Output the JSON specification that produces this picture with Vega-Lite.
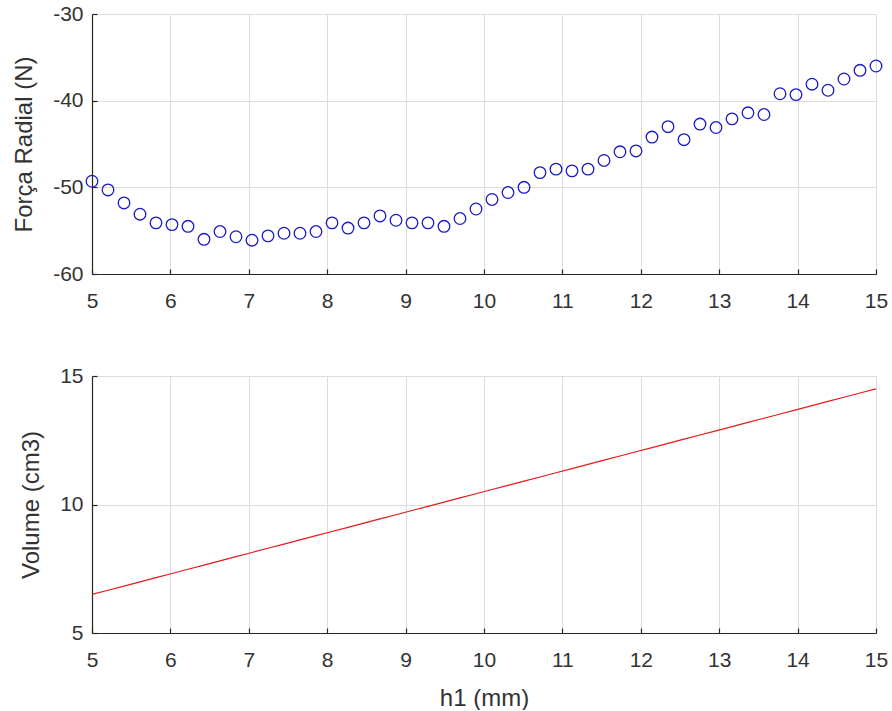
{
  "$schema": "https://vega.github.io/schema/vega-lite/v6.json",
  "background": "white",
  "autosize": {"type": "pad"},
  "padding": {"left": 12, "top": 3, "right": 14, "bottom": 0},
  "bounds": "flush",
  "spacing": 102,
  "data": {"values": [
    {"h1": 5.0000, "forca": -49.3, "volume": 6.500},
    {"h1": 5.2041, "forca": -50.3, "volume": 6.663},
    {"h1": 5.4082, "forca": -51.8, "volume": 6.827},
    {"h1": 5.6122, "forca": -53.1, "volume": 6.990},
    {"h1": 5.8163, "forca": -54.1, "volume": 7.153},
    {"h1": 6.0204, "forca": -54.3, "volume": 7.316},
    {"h1": 6.2245, "forca": -54.5, "volume": 7.480},
    {"h1": 6.4286, "forca": -56.0, "volume": 7.643},
    {"h1": 6.6327, "forca": -55.1, "volume": 7.806},
    {"h1": 6.8367, "forca": -55.7, "volume": 7.969},
    {"h1": 7.0408, "forca": -56.1, "volume": 8.133},
    {"h1": 7.2449, "forca": -55.6, "volume": 8.296},
    {"h1": 7.4490, "forca": -55.3, "volume": 8.459},
    {"h1": 7.6531, "forca": -55.3, "volume": 8.622},
    {"h1": 7.8571, "forca": -55.1, "volume": 8.786},
    {"h1": 8.0612, "forca": -54.1, "volume": 8.949},
    {"h1": 8.2653, "forca": -54.7, "volume": 9.112},
    {"h1": 8.4694, "forca": -54.1, "volume": 9.276},
    {"h1": 8.6735, "forca": -53.3, "volume": 9.439},
    {"h1": 8.8776, "forca": -53.8, "volume": 9.602},
    {"h1": 9.0816, "forca": -54.1, "volume": 9.765},
    {"h1": 9.2857, "forca": -54.1, "volume": 9.929},
    {"h1": 9.4898, "forca": -54.5, "volume": 10.092},
    {"h1": 9.6939, "forca": -53.6, "volume": 10.255},
    {"h1": 9.8980, "forca": -52.5, "volume": 10.418},
    {"h1": 10.1020, "forca": -51.4, "volume": 10.582},
    {"h1": 10.3061, "forca": -50.6, "volume": 10.745},
    {"h1": 10.5102, "forca": -50.0, "volume": 10.908},
    {"h1": 10.7143, "forca": -48.3, "volume": 11.071},
    {"h1": 10.9184, "forca": -47.9, "volume": 11.235},
    {"h1": 11.1224, "forca": -48.1, "volume": 11.398},
    {"h1": 11.3265, "forca": -47.9, "volume": 11.561},
    {"h1": 11.5306, "forca": -46.9, "volume": 11.724},
    {"h1": 11.7347, "forca": -45.9, "volume": 11.888},
    {"h1": 11.9388, "forca": -45.8, "volume": 12.051},
    {"h1": 12.1429, "forca": -44.2, "volume": 12.214},
    {"h1": 12.3469, "forca": -43.0, "volume": 12.378},
    {"h1": 12.5510, "forca": -44.5, "volume": 12.541},
    {"h1": 12.7551, "forca": -42.7, "volume": 12.704},
    {"h1": 12.9592, "forca": -43.1, "volume": 12.867},
    {"h1": 13.1633, "forca": -42.1, "volume": 13.031},
    {"h1": 13.3673, "forca": -41.4, "volume": 13.194},
    {"h1": 13.5714, "forca": -41.6, "volume": 13.357},
    {"h1": 13.7755, "forca": -39.2, "volume": 13.520},
    {"h1": 13.9796, "forca": -39.3, "volume": 13.684},
    {"h1": 14.1837, "forca": -38.1, "volume": 13.847},
    {"h1": 14.3878, "forca": -38.8, "volume": 14.010},
    {"h1": 14.5918, "forca": -37.5, "volume": 14.173},
    {"h1": 14.7959, "forca": -36.5, "volume": 14.337},
    {"h1": 15.0000, "forca": -36.0, "volume": 14.500}
  ]},
  "vconcat": [
    {
      "width": 784,
      "height": 260,
      "mark": {"type": "point", "shape": "circle", "filled": false, "color": "#1a1ad0", "size": 135, "strokeWidth": 1.3, "opacity": 1},
      "encoding": {
        "x": {"field": "h1", "type": "quantitative", "scale": {"domain": [5, 15], "nice": false, "zero": false},
              "axis": {"values": [5, 6, 7, 8, 9, 10, 11, 12, 13, 14, 15], "title": null}},
        "y": {"field": "forca", "type": "quantitative", "scale": {"domain": [-60, -30], "nice": false, "zero": false},
              "axis": {"values": [-60, -50, -40, -30], "title": "Força Radial (N)", "labelExpr": "replace(datum.label, '\u2212', '-')"}}
      }
    },
    {
      "width": 784,
      "height": 257,
      "mark": {"type": "line", "color": "#e31a1a", "strokeWidth": 1.2},
      "encoding": {
        "x": {"field": "h1", "type": "quantitative", "scale": {"domain": [5, 15], "nice": false, "zero": false},
              "axis": {"values": [5, 6, 7, 8, 9, 10, 11, 12, 13, 14, 15], "title": "h1 (mm)"}},
        "y": {"field": "volume", "type": "quantitative", "scale": {"domain": [5, 15], "nice": false, "zero": false},
              "axis": {"values": [5, 10, 15], "title": "Volume (cm3)"}}
      }
    }
  ],
  "config": {
    "view": {"stroke": null},
    "axis": {
      "labelFont": "Liberation Sans",
      "labelFontSize": 21,
      "labelColor": "#333333",
      "titleFont": "Liberation Sans",
      "titleFontSize": 24,
      "titleFontWeight": "normal",
      "titleColor": "#333333",
      "grid": true,
      "gridColor": "#dcdcdc",
      "gridWidth": 1,
      "domainColor": "#262626",
      "domainWidth": 1.2,
      "tickColor": "#262626",
      "tickSize": -5,
      "tickWidth": 1.2,
      "labelFlush": false,
      "labelOverlap": false
    },
    "axisY": {"labelPadding": 14, "titlePadding": 16},
    "axisX": {"labelPadding": 21, "titlePadding": 16}
  }
}
